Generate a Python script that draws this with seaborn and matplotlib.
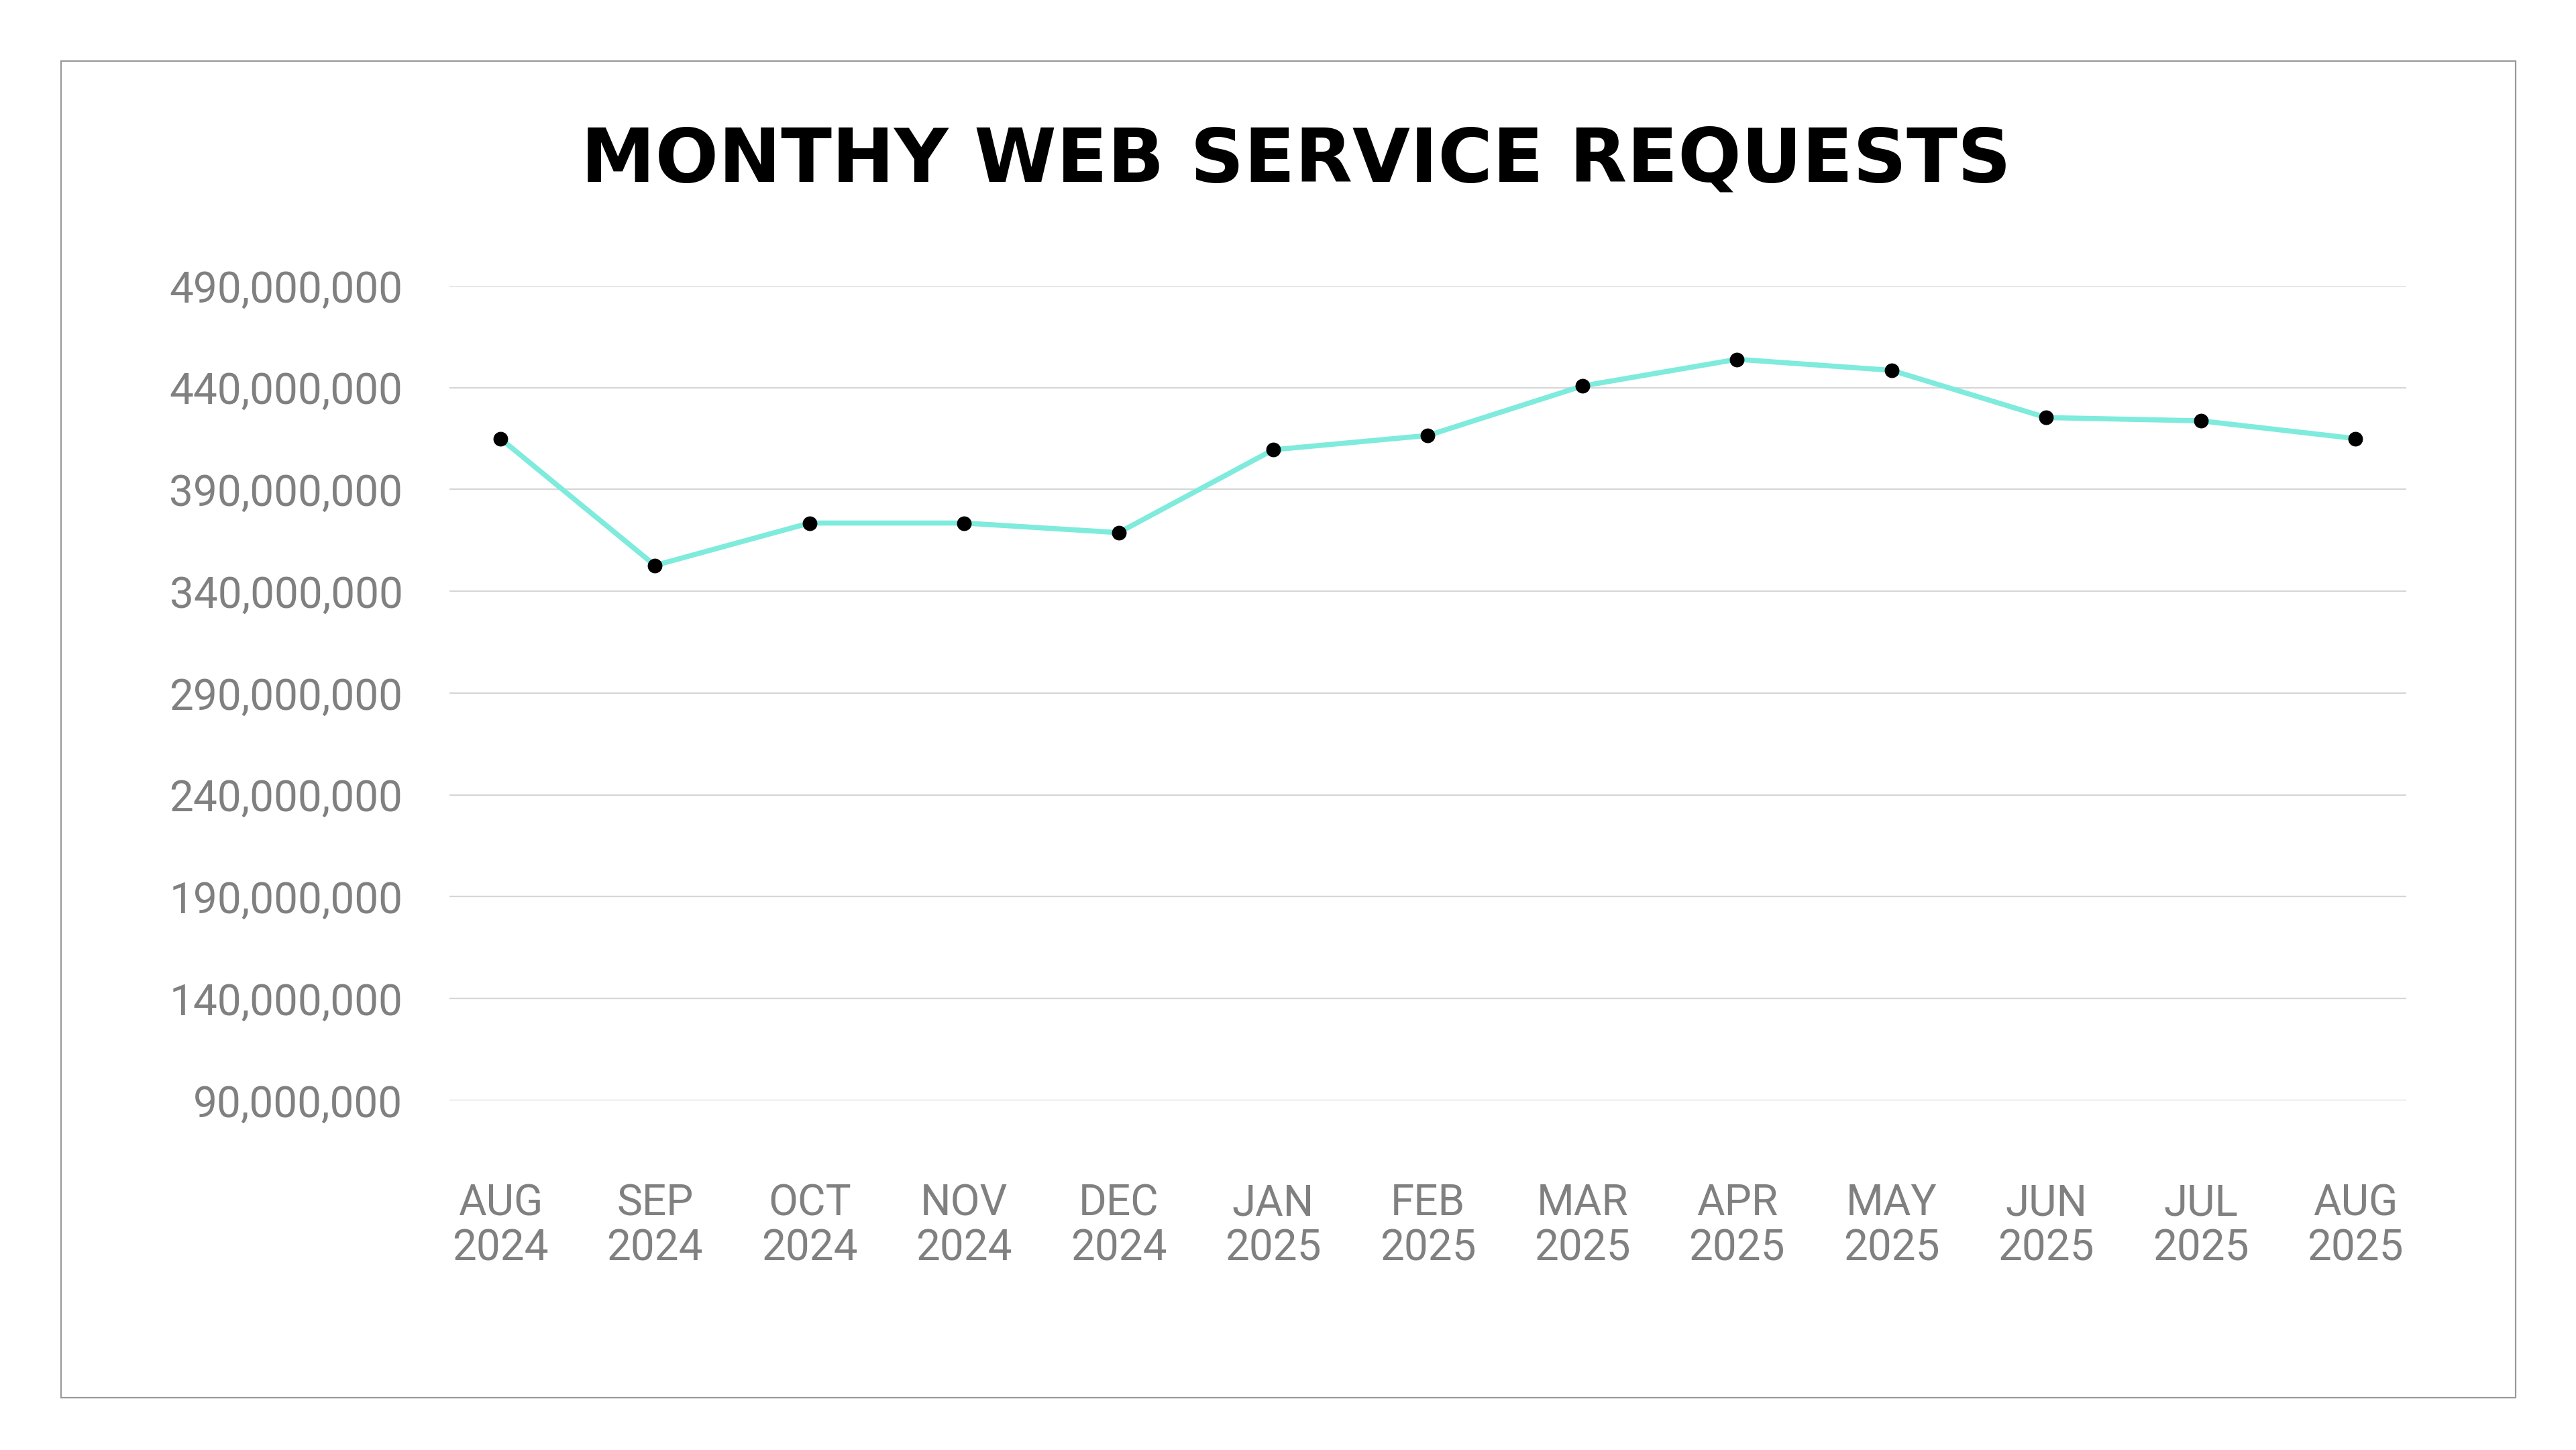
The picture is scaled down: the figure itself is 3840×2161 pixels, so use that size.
import matplotlib
matplotlib.use("Agg")
import matplotlib.pyplot as plt
from matplotlib.patches import Rectangle
from matplotlib.ticker import FuncFormatter
import seaborn as sns
import pandas as pd

months = ["AUG\n2024", "SEP\n2024", "OCT\n2024", "NOV\n2024", "DEC\n2024", "JAN\n2025",
          "FEB\n2025", "MAR\n2025", "APR\n2025", "MAY\n2025", "JUN\n2025", "JUL\n2025", "AUG\n2025"]
requests = [415000000, 352700000, 373500000, 373500000, 368800000, 409500000,
            416500000, 440800000, 453900000, 448500000, 425300000, 423700000, 415000000]
y_ticks = [90000000, 140000000, 190000000, 240000000, 290000000,
           340000000, 390000000, 440000000, 490000000]
title = "MONTHY WEB SERVICE REQUESTS"

sns.set_style("white")
plt.rcParams['font.family'] = ['Roboto', 'DejaVu Sans']

df = pd.DataFrame({"month": months, "requests": requests})

fig = plt.figure(figsize=(38.41, 21.61), dpi=100)
ax = fig.add_axes([0.1744, 0.2411, 0.7595, 0.5618])

sns.lineplot(data=df, x="month", y="requests", ax=ax, color="#7EEBDC", linewidth=5.5,
             marker="o", markersize=15, markerfacecolor="black", markeredgecolor="black",
             sort=False)

ax.set_ylim(y_ticks[0], y_ticks[-1])
ax.set_xlim(-0.33, len(months) - 1 + 0.33)
ax.set_yticks(y_ticks)
ax.yaxis.set_major_formatter(FuncFormatter(lambda v, p: f"{int(v):,}"))
ax.grid(axis="y", color="#d6d6d6", linewidth=1.6)
ax.grid(axis="x", visible=False)
ax.set_axisbelow(True)
for s in ax.spines.values():
    s.set_visible(False)
ax.set_xlabel("")
ax.set_ylabel("")
ax.tick_params(axis="y", length=0, pad=50, labelsize=46, labelcolor="#808080")
ax.tick_params(axis="x", length=0, pad=88, labelsize=46, labelcolor="#808080")
for lbl in ax.get_xticklabels():
    lbl.set_linespacing(1.1)

fig.text(0.503, 0.889, title, ha="center", va="center", fontsize=80,
         fontweight="bold", color="black", family=["DejaVu Sans"])

border = Rectangle((91 / 3841, 1 - 2083 / 2161), (3750 - 91) / 3841, (2083 - 91) / 2161,
                   transform=fig.transFigure, fill=False, edgecolor="#999999", linewidth=1.6)
fig.patches.append(border)

fig.savefig("out.png", dpi=100, facecolor="white")
